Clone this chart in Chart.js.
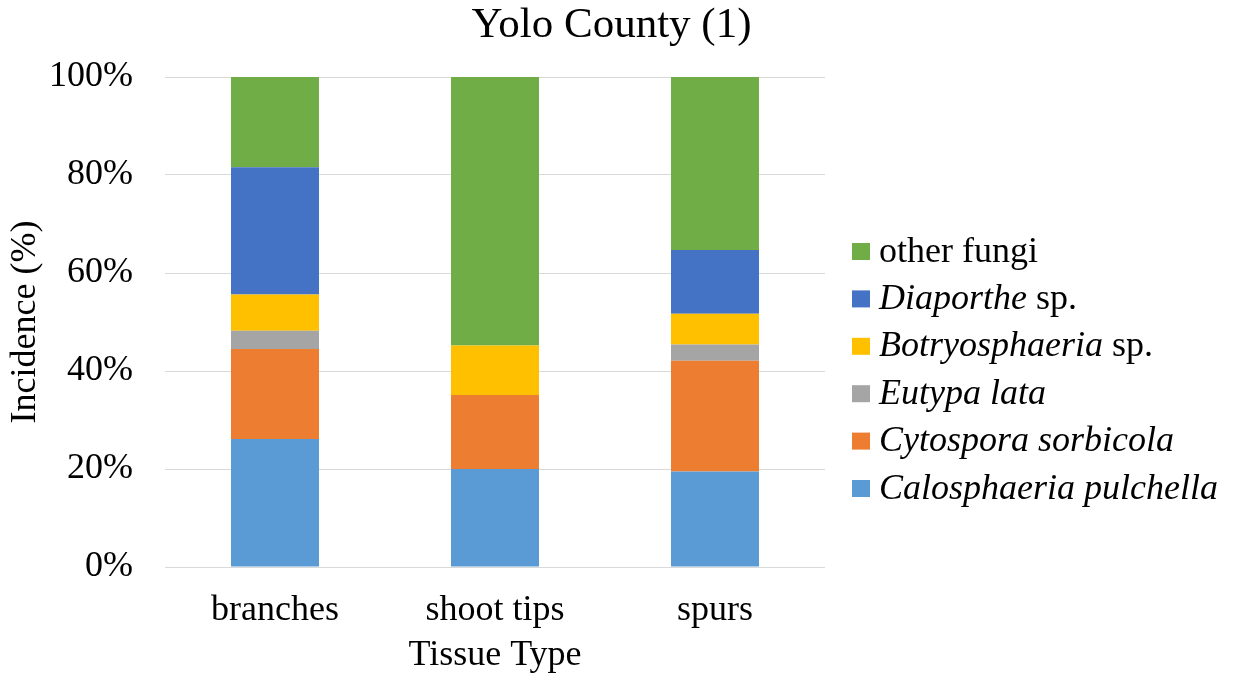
<!DOCTYPE html>
<html>
<head>
<meta charset="utf-8">
<title>Yolo County (1)</title>
<script src="https://cdn.jsdelivr.net/npm/chart.js@4.4.1/dist/chart.umd.min.js"></script>
<style>
  html, body { margin: 0; padding: 0; background: #fff; }
  #wrap { width: 1233px; height: 675px; }
</style>
</head>
<body>
<div id="wrap"><canvas id="chart"></canvas></div>
<script>
// tissue types and incidence (%) per fungus, stacked bottom to top
const tissueTypes = ['branches', 'shoot tips', 'spurs'];
const calosphaeria = [26.1, 20.0, 19.5];
const cytospora = [18.4, 15.1, 22.6];
const eutypa = [3.7, 0, 3.3];
const botryosphaeria = [7.4, 10.1, 6.3];
const diaporthe = [26.0, 0, 13.0];
const otherFungi = [18.4, 54.8, 35.3];
const yTicks = [0, 20, 40, 60, 80, 100];
const chartTitle = 'Yolo County (1)';

// legend labels: [italic part, upright part]
const seriesLabels = [
    ['Calosphaeria pulchella', ''],
    ['Cytospora sorbicola', ''],
    ['Eutypa lata', ''],
    ['Botryosphaeria', ' sp.'],
    ['Diaporthe', ' sp.'],
    ['', 'other fungi']
];
const seriesValues = [calosphaeria, cytospora, eutypa, botryosphaeria, diaporthe, otherFungi];
const seriesColors = ['#5B9BD5', '#ED7D31', '#A5A5A5', '#FFC000', '#4472C4', '#70AD47'];

const FONT = '"Liberation Serif", "Times New Roman", serif';

// title centred on the whole canvas, legend with mixed italic / upright text
const titleAndLegend = {
    id: 'titleAndLegend',
    afterDraw(chart) {
        const { ctx, chartArea } = chart;
        ctx.save();

        ctx.fillStyle = '#000';
        ctx.font = '43px ' + FONT;
        ctx.textAlign = 'center';
        ctx.textBaseline = 'middle';
        ctx.fillText(chartTitle, chart.width / 2 - 5, 26);

        const boxX = chartArea.right + 27;
        const textX = chartArea.right + 54;
        let y = chartArea.top + 174.5;
        ctx.textBaseline = 'alphabetic';
        ctx.textAlign = 'left';
        for (let i = chart.data.datasets.length - 1; i >= 0; i--) {
            const ds = chart.data.datasets[i];
            ctx.fillStyle = ds.backgroundColor;
            ctx.fillRect(boxX, y - 8.5, 18, 17);
            ctx.fillStyle = '#000';
            let x = textX;
            const [italic, plain] = ds.labelParts;
            if (italic) {
                ctx.font = 'italic 36px ' + FONT;
                ctx.fillText(italic, x, y + 10);
                x += ctx.measureText(italic).width;
            }
            if (plain) {
                ctx.font = '36px ' + FONT;
                ctx.fillText(plain, x, y + 10);
            }
            y += 47.4;
        }
        ctx.restore();
    }
};

const datasets = seriesValues.map((values, i) => ({
    label: seriesLabels[i].join(''),
    labelParts: seriesLabels[i],
    data: values,
    backgroundColor: seriesColors[i],
    borderWidth: 0,
    barPercentage: 0.4,
    categoryPercentage: 1.0
}));

new Chart(document.getElementById('chart'), {
    type: 'bar',
    data: { labels: tissueTypes, datasets: datasets },
    plugins: [titleAndLegend],
    options: {
        responsive: true,
        maintainAspectRatio: false,
        animation: false,
        layout: { padding: { left: 0, right: 408, top: 77, bottom: 0 } },
        plugins: {
            legend: { display: false },
            tooltip: { enabled: false },
            title: { display: false }
        },
        scales: {
            x: {
                stacked: true,
                grid: { display: false, drawTicks: false },
                border: { display: false },
                ticks: {
                    color: '#000',
                    font: { family: FONT, size: 36 },
                    padding: 22
                },
                title: {
                    display: true,
                    text: 'Tissue Type',
                    color: '#000',
                    font: { family: FONT, size: 36, lineHeight: 1.0 },
                    padding: { top: 0, bottom: 1 }
                },
                afterFit(scale) { scale.height = 108; }
            },
            y: {
                stacked: true,
                min: 0,
                max: 100,
                grid: { color: '#D9D9D9', lineWidth: 1, drawTicks: false },
                border: { display: false },
                afterBuildTicks(axis) {
                    axis.ticks = yTicks.map(v => ({ value: v }));
                },
                ticks: {
                    color: '#000',
                    font: { family: FONT, size: 36 },
                    padding: 32,
                    callback: v => v + '%'
                },
                title: {
                    display: true,
                    text: 'Incidence (%)',
                    color: '#000',
                    font: { family: FONT, size: 36 },
                    padding: { top: 4, bottom: 0 }
                },
                afterFit(scale) { scale.width = 165; }
            }
        }
    }
});
</script>
</body>
</html>
